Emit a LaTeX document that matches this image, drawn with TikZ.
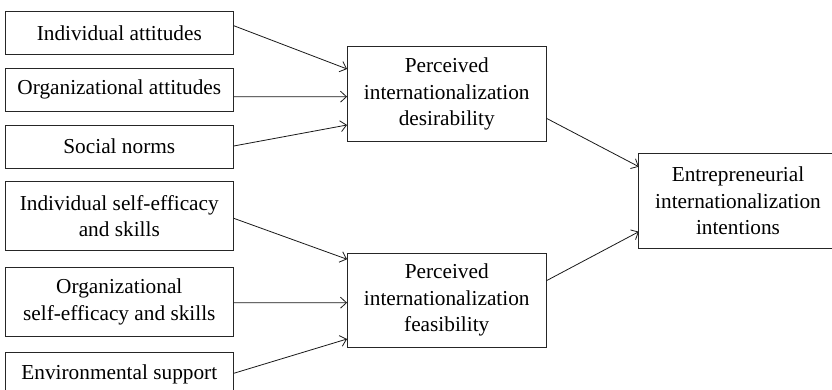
\documentclass[tikz,border=0pt]{standalone}
\usepackage{fontspec}
\setmainfont{Liberation Serif}
\usetikzlibrary{arrows.meta}
\begin{document}
\begin{tikzpicture}[x=1pt,y=-1pt,
  every node/.style={font=\fontsize{21.3}{26.5}\selectfont, align=center, inner sep=0pt},
  boxline/.style={draw=black!85, line width=0.9pt},
  factor/.style={boxline, rectangle, minimum width=228pt},
  construct/.style={boxline, rectangle, minimum width=198.5pt, minimum height=94.8pt},
  arr/.style={draw=black!90, line width=0.8pt, -{Straight Barb[length=6pt,width=11pt]}}]
\clip (0,0) rectangle (832,390);
% antecedent factors
\node[factor, minimum height=42.3pt] (b1) at (119.3,32.85) {Individual attitudes};
\node[factor, minimum height=42.7pt] (b2) at (119.3,89.65) {Organizational attitudes};
\node[factor, minimum height=42.7pt] (b3) at (119.3,146.65) {Social norms};
\node[factor, minimum height=68.6pt] (b4) at (119.3,216) {Individual self-efficacy\\and skills};
\node[factor, minimum height=68.3pt] (b5) at (119.3,301.85) {Organizational\\self-efficacy and skills};
\node[factor, minimum height=42.7pt] (b6) at (119.3,374) {Environmental support};
% perceptions
\node[construct] (m1) at (446.75,94.1) {Perceived\\internationalization\\desirability};
\node[construct, minimum height=94.5pt] (m2) at (446.75,300.25) {Perceived\\internationalization\\feasibility};
% outcome, its frame running on past the right margin
\node[rectangle, minimum width=198pt, minimum height=95pt] (r) at (738,200.8) {Entrepreneurial\\internationalization\\intentions};
\draw[boxline] ([xshift=30pt]r.north east) -- (r.north west) -- (r.south west) -- ([xshift=30pt]r.south east);
% paths
\draw[arr] ([yshift=7.15pt]b1.east) -- ([yshift=25.1pt]m1.west);
\draw[arr] ([yshift=-7.05pt]b2.east) -- ([yshift=-2.6pt]m1.west);
\draw[arr] ([yshift=0.65pt]b3.east) -- ([yshift=-30.9pt]m1.west);
\draw[arr] ([yshift=-2.3pt]b4.east) -- ([yshift=41pt]m2.west);
\draw[arr] ([yshift=-0.85pt]b5.east) -- ([yshift=-2.45pt]m2.west);
\draw[arr] ([yshift=0.7pt]b6.east) -- ([yshift=-38.75pt]m2.west);
\draw[arr] ([yshift=-24.2pt]m1.east) -- ([yshift=34.1pt]r.west);
\draw[arr] ([yshift=19.55pt]m2.east) -- ([yshift=-30.9pt]r.west);
\end{tikzpicture}
\end{document}
